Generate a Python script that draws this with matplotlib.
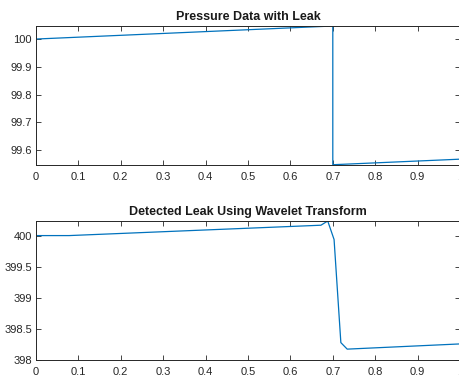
import matplotlib
matplotlib.use("Agg")
import matplotlib.pyplot as plt
from matplotlib.ticker import FuncFormatter

# Data
t_pressure = [0.0, 0.7, 0.7, 1.0]
p_pressure = [100.0, 100.047, 99.547, 99.567]

t_wavelet = [0.0, 0.078, 0.672, 0.688, 0.703, 0.719, 0.734, 1.0]
p_wavelet = [400.01, 400.01, 400.177, 400.245, 399.947, 398.285, 398.18, 398.264]

x_ticks = [0, 0.1, 0.2, 0.3, 0.4, 0.5, 0.6, 0.7, 0.8, 0.9, 1.0]
y_ticks_top = [99.6, 99.7, 99.8, 99.9, 100.0]
y_ticks_bottom = [398, 398.5, 399, 399.5, 400]

titles = ["Pressure Data with Leak", "Detected Leak Using Wavelet Transform"]

plt.rcParams['font.family'] = ['Liberation Sans', 'DejaVu Sans']

W, H = 459, 381
fig = plt.figure(figsize=(W / 100, H / 100), dpi=100)

def pos(left, top, right, bottom):
    return [left / W, 1 - bottom / H, (right - left) / W, (bottom - top) / H]

ax1 = fig.add_axes(pos(36, 26, 460, 165))
ax2 = fig.add_axes(pos(36, 221, 460, 360.3))

line_color = '#0072BD'
axis_color = '#262626'
fmt = FuncFormatter(lambda v, p: f"{v:g}")

for ax, t, p, yt, ylim, title in [
    (ax1, t_pressure, p_pressure, y_ticks_top, (99.546, 100.047), titles[0]),
    (ax2, t_wavelet, p_wavelet, y_ticks_bottom, (398.0, 400.245), titles[1]),
]:
    ax.plot(t, p, color=line_color, lw=0.9)
    ax.set_xlim(0, 1)
    ax.set_ylim(*ylim)
    ax.set_xticks(x_ticks)
    ax.set_yticks(yt)
    ax.xaxis.set_major_formatter(fmt)
    ax.yaxis.set_major_formatter(fmt)
    ax.tick_params(direction='in', length=3.5, width=0.6, colors=axis_color,
                   labelsize=8, top=True, right=True)
    ax.tick_params(axis='x', pad=5)
    ax.tick_params(axis='y', pad=3)
    for s in ax.spines.values():
        s.set_color(axis_color)
        s.set_linewidth(0.7)
    ax.set_title(title, fontsize=9, fontweight='bold', color='#1a1a1a', pad=4)

fig.savefig("out.png", dpi=100)
